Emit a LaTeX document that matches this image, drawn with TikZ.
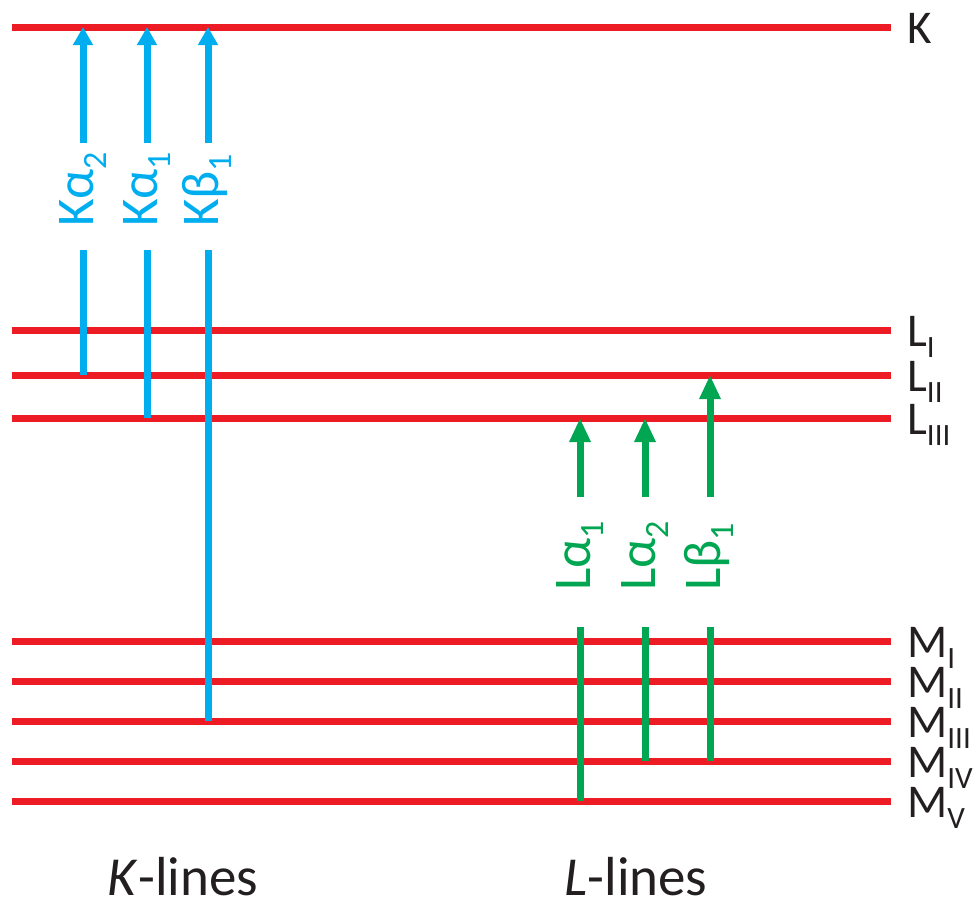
\documentclass[tikz,border=0pt]{standalone}
\usepackage{fontspec}
\setmainfont{Carlito}
\usetikzlibrary{arrows.meta}
\definecolor{lvred}{HTML}{ED1C24}
\definecolor{kblue}{HTML}{00AEEF}
\definecolor{lgreen}{HTML}{00A651}
\definecolor{txt}{HTML}{231F20}
\newcommand\levsub[1]{\raisebox{-11pt}{\fontsize{31}{31}\selectfont #1}}
\newcommand\trsub[1]{\raisebox{-13pt}{\fontsize{34}{34}\selectfont #1}}
\begin{document}
\begin{tikzpicture}[x=1pt,y=-1pt,
  level/.style={draw=lvred,line width=7pt},
  kline/.style={draw=kblue,line width=7pt},
  lline/.style={draw=lgreen,line width=7pt},
  ktip/.style={-{Triangle[length=18pt,width=19pt]}},
  ltip/.style={-{Triangle[length=24pt,width=20pt]}},
  lvlabel/.style={anchor=base west,text=txt,inner sep=0pt,font=\fontsize{47}{50}\selectfont},
  translabel/.style={rotate=90,anchor=base west,inner sep=0pt,font=\fontsize{53}{56}\selectfont},
  bottomlabel/.style={anchor=base,text=txt,inner sep=0pt,font=\fontsize{55}{60}\selectfont}]
\useasboundingbox (0,0) rectangle (976,905);
% energy levels
\foreach \n/\y in {K/27,LI/330,LII/375,LIII/418,MI/641,MII/681,MIII/721,MIV/761,MV/801}{
  \coordinate (\n-l) at (12,\y);
  \coordinate (\n-r) at (891,\y);
  \draw[level] (\n-l) -- (\n-r);
}
% level labels
\node[lvlabel] (lab-K)    at (907,43)  {K};
\node[lvlabel] (lab-LI)   at (907,346) {L\levsub{I}};
\node[lvlabel] (lab-LII)  at (907,391) {L\levsub{II}};
\node[lvlabel] (lab-LIII) at (907,434) {L\levsub{III}};
\node[lvlabel] (lab-MI)   at (907,657) {M\levsub{I}};
\node[lvlabel] (lab-MII)  at (907,697) {M\levsub{II}};
\node[lvlabel] (lab-MIII) at (907,737) {M\levsub{III}};
\node[lvlabel] (lab-MIV)  at (907,777) {M\levsub{IV}};
\node[lvlabel] (lab-MV)   at (907,817) {M\levsub{V}};
% transition labels
\node[translabel,text=kblue]  (t-ka2) at (93,227)  {Kα\trsub{2}};
\node[translabel,text=kblue]  (t-ka1) at (157,227) {Kα\trsub{1}};
\node[translabel,text=kblue]  (t-kb1) at (218,227) {Kβ\trsub{1}};
\node[translabel,text=lgreen] (t-la1) at (590,591) {Lα\trsub{1}};
\node[translabel,text=lgreen] (t-la2) at (655,591) {Lα\trsub{2}};
\node[translabel,text=lgreen] (t-lb1) at (720,591) {Lβ\trsub{1}};
% gap ends of the transition arrows
\foreach \n/\x in {ka2/83,ka1/147,kb1/208}{
  \coordinate (\n-lo) at (\x,250);
  \coordinate (\n-hi) at (\x,143);
}
\foreach \n/\x in {la1/580,la2/645,lb1/710}{
  \coordinate (\n-lo) at (\x,627);
  \coordinate (\n-hi) at (\x,497);
}
% K transitions
\draw[kline] (ka2-lo |- LII-l) -- (ka2-lo);
\draw[kline,ktip] (ka2-hi) -- (ka2-hi |- K-l);
\draw[kline] (ka1-lo |- LIII-l) -- (ka1-lo);
\draw[kline,ktip] (ka1-hi) -- (ka1-hi |- K-l);
\draw[kline] (kb1-lo |- MIII-l) -- (kb1-lo);
\draw[kline,ktip] (kb1-hi) -- (kb1-hi |- K-l);
% L transitions
\draw[lline] (la1-lo |- MV-l) -- (la1-lo);
\draw[lline,ltip] (la1-hi) -- (la1-hi |- LIII-l);
\draw[lline] (la2-lo |- MIV-l) -- (la2-lo);
\draw[lline,ltip] (la2-hi) -- (la2-hi |- LIII-l);
\draw[lline] (lb1-lo |- MIV-l) -- (lb1-lo);
\draw[lline,ltip] (lb1-hi) -- (lb1-hi |- LII-l);
% bottom labels
\node[bottomlabel] (klines) at (183,895) {\textit{K}-lines};
\node[bottomlabel] (llines) at (636,895) {\textit{L}-lines};
\end{tikzpicture}
\end{document}
